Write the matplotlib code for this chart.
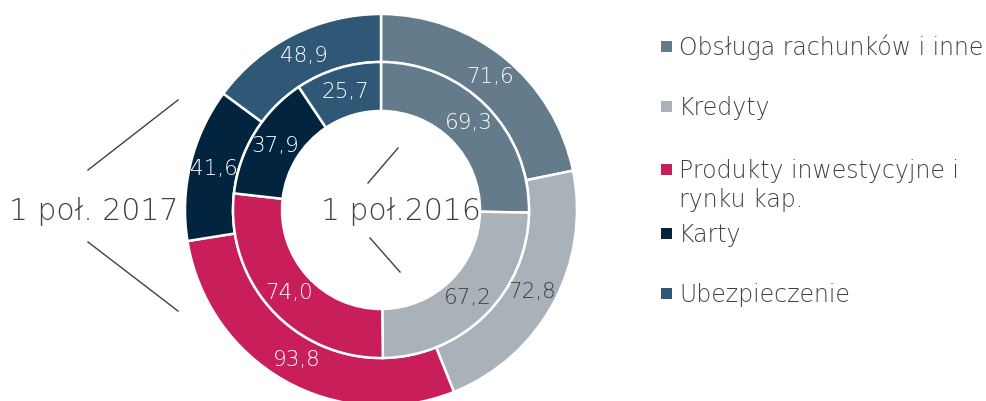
import numpy as np
import matplotlib
matplotlib.use("Agg")
import matplotlib.pyplot as plt
from matplotlib.patches import Rectangle

categories = ["Obsługa rachunków i inne", "Kredyty", "Produkty inwestycyjne i\nrynku kap.", "Karty", "Ubezpieczenie"]
values_2016 = [69.3, 67.2, 74.0, 37.9, 25.7]
values_2017 = [71.6, 72.8, 93.8, 41.6, 48.9]
colors = ["#647B8C", "#A9B1B9", "#C81E5A", "#03243F", "#2E5876"]
label_colors = ["white", "#404040", "white", "white", "white"]
inner_title = "1 poł.2016"
outer_title = "1 poł. 2017"

plt.rcParams['font.family'] = ['DejaVu Sans']
plt.rcParams['font.weight'] = 'light'

W, H = 987, 401
fig = plt.figure(figsize=(W / 100, H / 100), dpi=100)
ax = fig.add_axes([0, 0, 1, 1])

cx, cy = 381, H - 210
R_out, R_mid, R_in = 196, 148, 99

ax.pie(values_2017, radius=R_out, center=(cx, cy), colors=colors, startangle=90,
       counterclock=False, wedgeprops=dict(width=R_out - R_mid, edgecolor="white", linewidth=1.8))
ax.pie(values_2016, radius=R_mid, center=(cx, cy), colors=colors, startangle=90,
       counterclock=False, wedgeprops=dict(width=R_mid - R_in, edgecolor="white", linewidth=1.8))

ax.set_xlim(0, W)
ax.set_ylim(0, H)
ax.set_aspect('auto')
ax.axis('off')

def fmt(v):
    return f"{v:.1f}".replace(".", ",")

def place_labels(vals, r):
    total = sum(vals)
    start = 90.0
    for v, c in zip(vals, label_colors):
        span = 360.0 * v / total
        mid = np.deg2rad(start - span / 2)
        ax.text(cx + r * np.cos(mid), cy + r * np.sin(mid), fmt(v), color=c,
                fontsize=15.5, ha="center", va="center")
        start -= span

place_labels(values_2017, (R_out + R_mid) / 2)
place_labels(values_2016, (R_mid + R_in) / 2)

# center / side titles
ax.text(401, H - 212, inner_title, fontsize=21.5, color="#404040", ha="center", va="center")
ax.text(94, H - 212, outer_title, fontsize=21.5, color="#404040", ha="center", va="center")

# leader lines
lc = "#404040"
ax.plot([88, 178], [H - 170, H - 100], color=lc, lw=1)
ax.plot([88, 178], [H - 242, H - 311], color=lc, lw=1)
ax.plot([368, 398], [H - 183, H - 148], color=lc, lw=1)
ax.plot([370, 400], [H - 238, H - 272], color=lc, lw=1)

# legend
baselines = [55, 115, 178, 242, 302]
line_step = 29
for lab, col, b in zip(categories, colors, baselines):
    ax.add_patch(Rectangle((661, H - b + 3), 11, 11, color=col, lw=0))
    for i, line in enumerate(lab.split("\n")):
        ax.text(679, H - b - i * line_step, line, fontsize=17, color="#404040",
                ha="left", va="baseline")

fig.savefig("out.png", dpi=100)
